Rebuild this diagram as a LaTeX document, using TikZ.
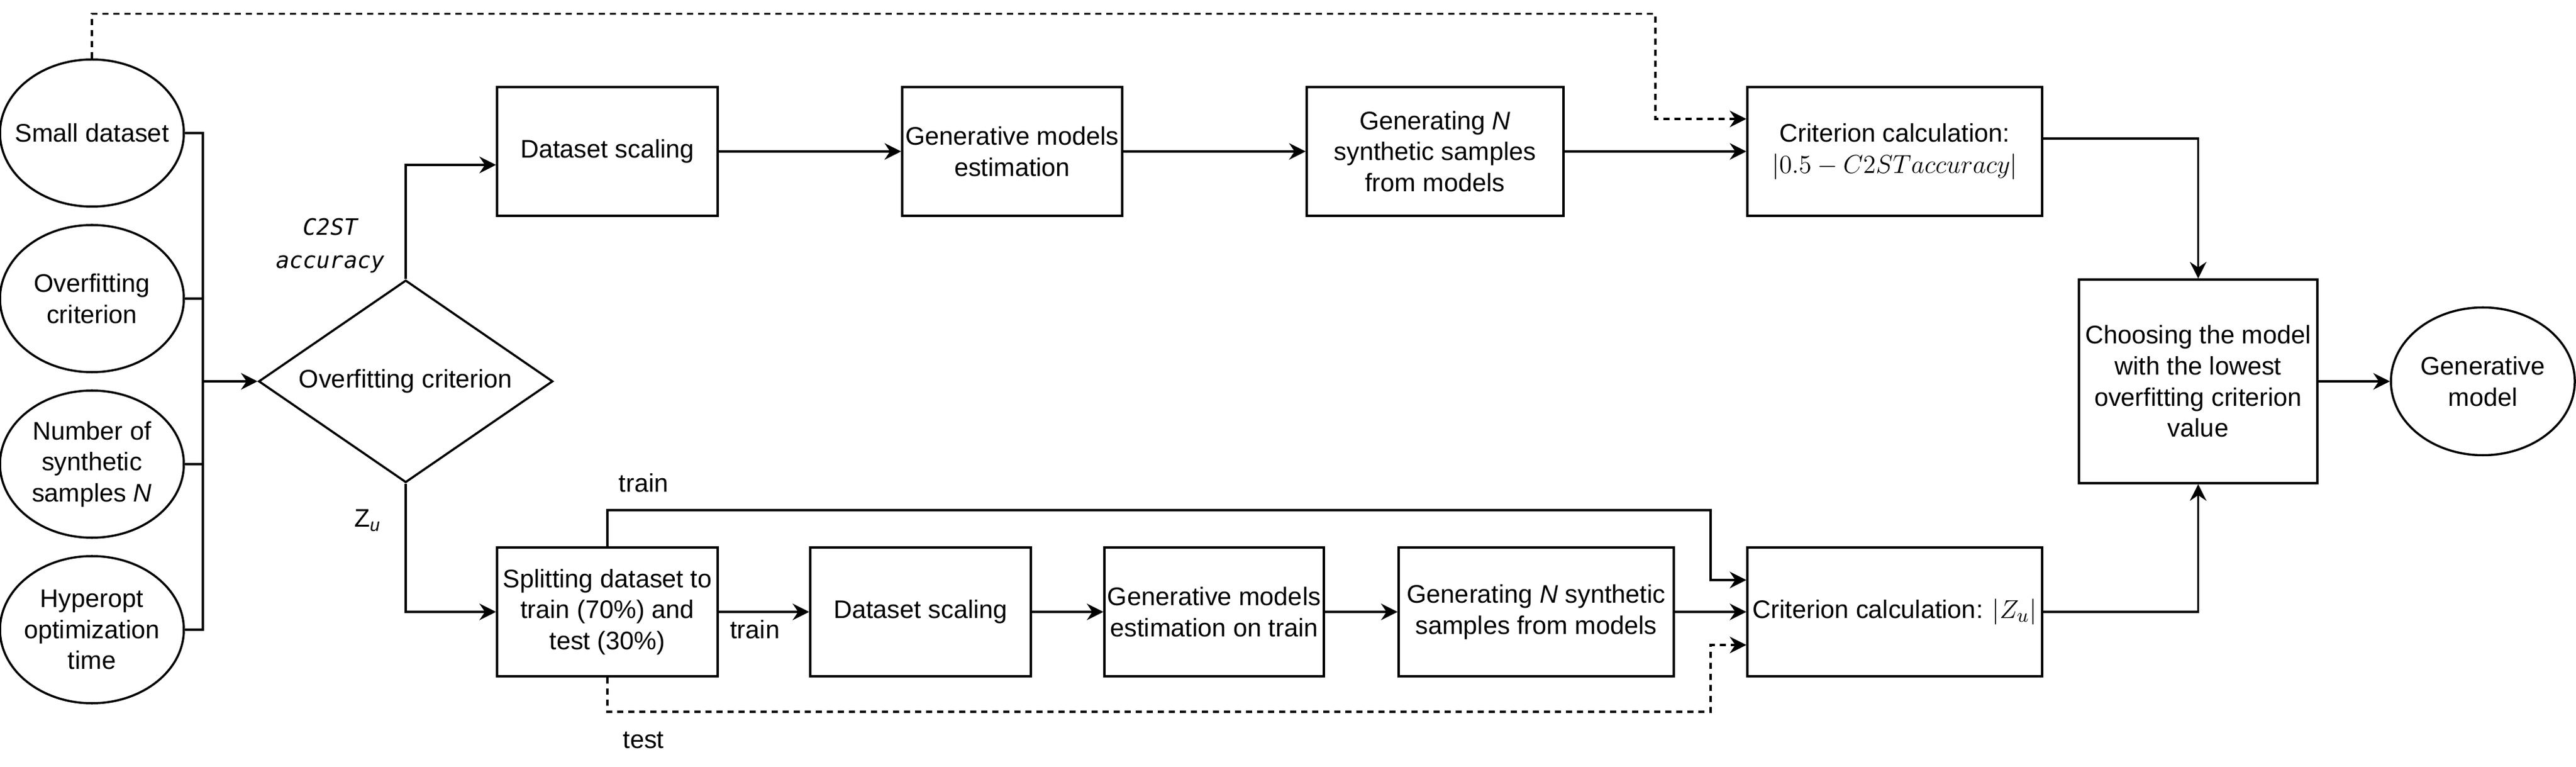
\documentclass[tikz,border=0pt]{standalone}
\usepackage{fontspec}
\setmainfont{Liberation Sans}
\newfontfamily\labelmono{DejaVu Sans Mono}
\usetikzlibrary{arrows.meta,shapes.geometric}

\tikzset{
    box/.style={draw, rectangle, minimum height=2.1cm, inner sep=0pt, align=center},
    oval/.style={draw, ellipse, minimum width=3cm, minimum height=2.4cm, inner ysep=0pt, inner xsep=-0.3cm, align=center},
    arr/.style={-{Stealth[length=0.27cm, width=0.27cm, inset=0.09cm]}},
    dashline/.style={dash pattern=on 0.10cm off 0.08cm},
}
\newcommand{\mathbig}[1]{{\fontsize{13pt}{14.4pt}\selectfont$#1$}}

\begin{document}
\begin{tikzpicture}[line width=1pt, font=\fontsize{11.8pt}{14.4pt}\selectfont]
    \useasboundingbox (0,0) rectangle (42.03,-12.51);

    % Draw the inputs
    \node[oval] (small) at (1.50,-2.17) {Small dataset};
    \node[oval] (overfit) at (1.50,-4.87) {Overfitting\\criterion};
    \node[oval] (number) at (1.50,-7.57) {Number of\\synthetic\\samples \textit{N}};
    \node[oval] (hyperopt) at (1.50,-10.27) {Hyperopt\\optimization\\time};
    \coordinate (bus) at (3.31,-6.22);

    % Draw the decision
    \node[draw, diamond, aspect=1.4545, minimum width=4.8cm, minimum height=3.3cm, inner sep=0pt] (decide) at (6.62,-6.22) {Overfitting criterion};

    % Draw the upper row
    \node[box, minimum width=3.60cm] (scaleA) at (9.91,-2.47) {Dataset scaling};
    \node[box, minimum width=3.59cm] (estA) at (16.515,-2.47) {Generative models\\estimation};
    \node[box, minimum width=4.19cm] (genA) at (23.415,-2.47) {Generating \textit{N}\\synthetic samples\\from models};
    \node[box, minimum width=4.81cm] (calcA) at (30.915,-2.47) {Criterion calculation:\\\mathbig{|0.5-C2STaccuracy|}};

    % Draw the lower row
    \node[box, minimum width=3.60cm] (split) at (9.91,-9.98) {Splitting dataset to\\train (70\%) and\\test (30\%)};
    \node[box, minimum width=3.60cm] (scaleB) at (15.02,-9.98) {Dataset scaling};
    \node[box, minimum width=3.58cm] (estB) at (19.81,-9.98) {Generative models\\estimation on train};
    \node[box, minimum width=4.49cm] (genB) at (25.065,-9.98) {Generating \textit{N} synthetic\\samples from models};
    \node[box, minimum width=4.81cm] (calcB) at (30.915,-9.98) {Criterion calculation: \mathbig{|Z_u|}};

    % Draw the output
    \node[box, minimum width=3.89cm, minimum height=3.32cm] (choose) at (35.865,-6.22) {Choosing the model\\with the lowest\\overfitting criterion\\value};
    \node[oval, minimum height=2.41cm] (genmodel) at (40.51,-6.22) {Generative\\model};

    % Inputs to the decision
    \draw (small.east) -| (bus) |- (hyperopt.east);
    \draw (overfit.east) -- (overfit.east -| bus);
    \draw (number.east) -- (number.east -| bus);
    \draw[arr] (bus) -- (decide.west);

    % C2ST branch
    \draw[arr] (decide.north) |- ([yshift=-0.22cm]scaleA.west);
    \draw[arr] (scaleA) -- (estA);
    \draw[arr] (estA) -- (genA);
    \draw[arr] (genA) -- (calcA);
    \coordinate (dashtop) at (27.01,-0.225);
    \draw[dashline, arr] (small.north) |- (dashtop) |- ([yshift=0.53cm]calcA.west);
    \draw[arr] ([yshift=0.21cm]calcA.east) -| (choose.north);

    % Z_u branch
    \draw[arr] (decide.south) |- (split.west);
    \draw[arr] (split) -- (scaleB) node[pos=0.4, below] (trainB) {train};
    \draw[arr] (scaleB) -- (estB);
    \draw[arr] (estB) -- (genB);
    \draw[arr] (genB) -- (calcB);
    \coordinate (trainturn) at (27.91,-8.32);
    \draw[arr] (split.north) |- (trainturn) |- ([yshift=0.52cm]calcB.west);
    \coordinate (testturn) at (27.91,-11.61);
    \draw[dashline, arr] (split.south) |- (testturn) |- ([yshift=-0.54cm]calcB.west);
    \draw[arr] (calcB.east) -| (choose.south);
    \draw[arr] (choose) -- (genmodel);

    % Add the branch labels
    \node[align=center, font=\labelmono\itshape\fontsize{10.5pt}{15.3pt}\selectfont] (c2st) at (5.39,-4.01) {C2ST\\accuracy};
    \node (zu) at (6.00,-8.49) {Z\textsubscript{\itshape u}};
    \node (trainA) at (10.50,-7.88) {train};
    \node (testB) at (10.50,-12.07) {test};
\end{tikzpicture}
\end{document}
